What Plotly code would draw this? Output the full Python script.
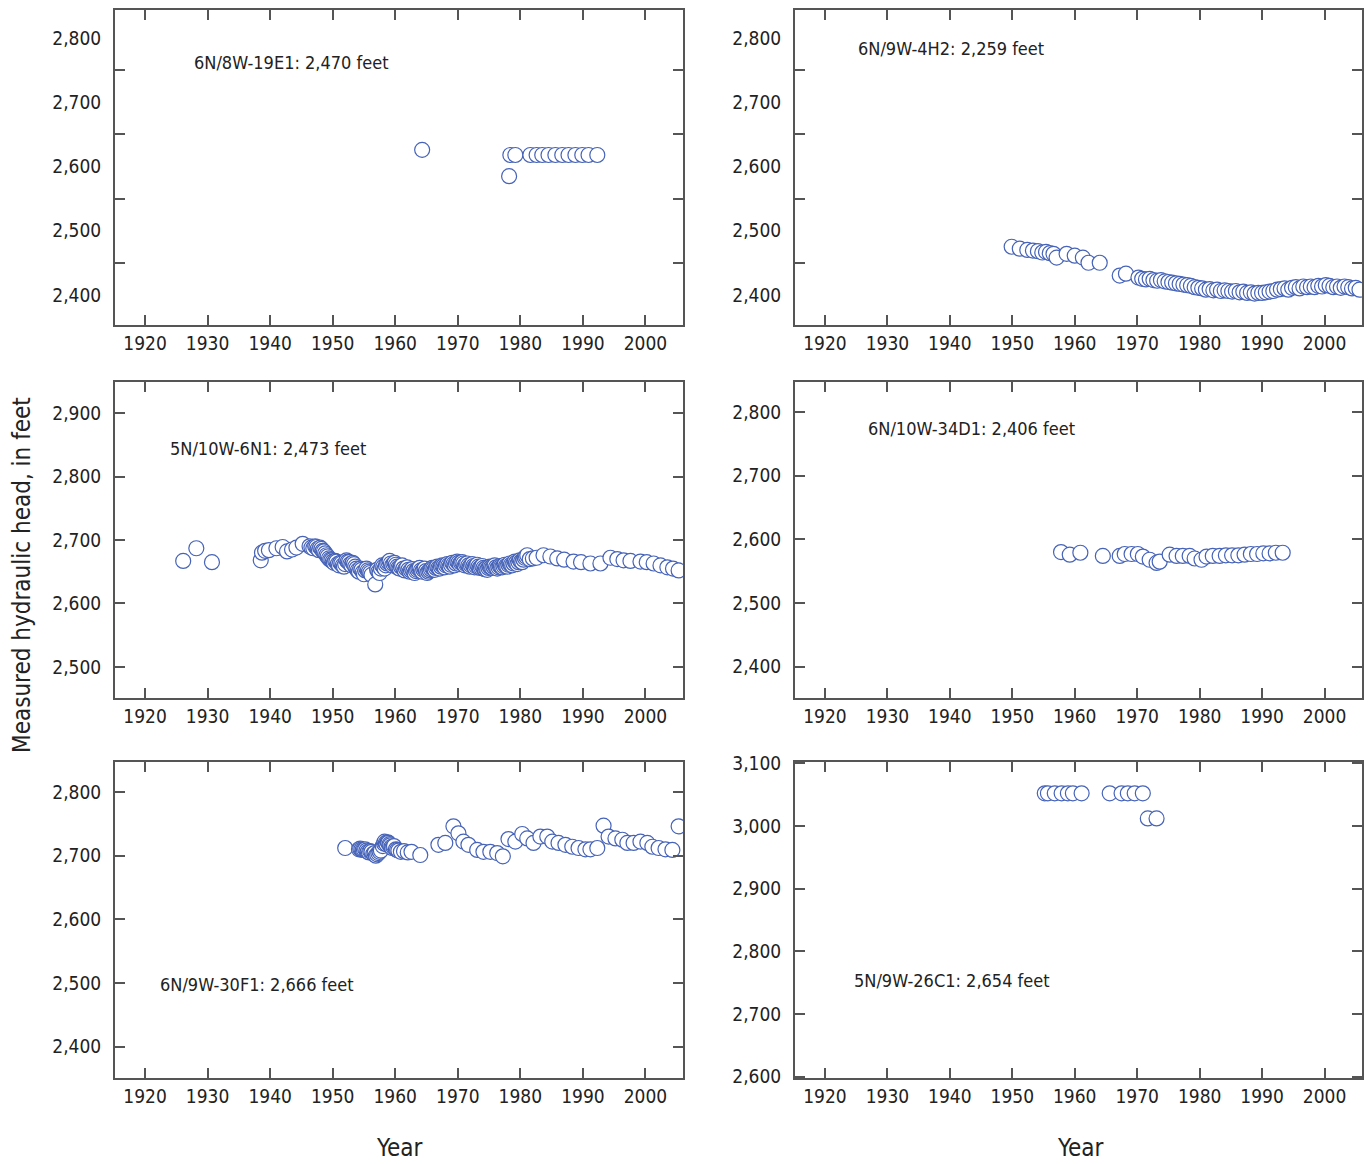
import plotly.graph_objects as go

# ---------------- data ----------------
w1_label = "6N/8W-19E1: 2,470 feet"
w1_year = [1964.3, 1978.2, 1978.4, 1979.2, 1981.6, 1982.6, 1983.5, 1984.5, 1985.6,
           1986.7, 1987.7, 1988.8, 1989.9, 1990.9, 1992.3]
w1_head = [2626, 2585, 2618, 2618, 2618, 2618, 2618, 2618, 2618,
           2618, 2618, 2618, 2618, 2618, 2618]

w2_label = "6N/9W-4H2: 2,259 feet"
w2_year = [1949.9, 1951.2, 1952.4, 1953.3, 1954.1, 1954.8, 1955.4, 1956.0, 1956.6, 1957.1,
           1958.7, 1960.0, 1961.3, 1962.2, 1964.0, 1967.2, 1968.2,
           1970.2, 1970.8, 1971.4, 1972.0, 1972.6, 1973.2, 1973.8, 1974.4, 1975.0, 1975.6,
           1976.2, 1976.8, 1977.4, 1978.0, 1978.6, 1979.2, 1979.8, 1980.4, 1981.0, 1981.6,
           1982.2, 1982.8, 1983.4, 1984.0, 1984.6, 1985.2, 1985.8, 1986.4, 1987.0, 1987.6,
           1988.2, 1988.8, 1989.4, 1990.0, 1990.6, 1991.2, 1991.8, 1992.4, 1993.0, 1993.6,
           1994.2, 1994.8, 1995.4, 1996.0, 1996.6, 1997.2, 1997.8, 1998.4, 1999.0, 1999.6,
           2000.2, 2000.8, 2001.4, 2002.0, 2002.6, 2003.2, 2003.8, 2004.4, 2005.0, 2005.6]
w2_head = [2475, 2472, 2470, 2469, 2468, 2466, 2467, 2465, 2464, 2458,
           2464, 2461, 2458, 2450, 2450, 2430, 2433,
           2427, 2425, 2424, 2425, 2423, 2422, 2423, 2421, 2420, 2419,
           2418, 2417, 2416, 2415, 2414, 2412, 2411, 2410, 2408, 2409,
           2407, 2408, 2406, 2407, 2406, 2405, 2406, 2404, 2405, 2403,
           2404, 2402, 2403, 2403, 2404, 2405, 2406, 2408, 2409, 2410,
           2408, 2411, 2412, 2410, 2413, 2412, 2413, 2412, 2414, 2413,
           2415, 2414, 2412, 2413, 2411, 2413, 2412, 2410, 2411, 2408]

w3_label = "5N/10W-6N1: 2,473 feet"
w3_year = [1926.1, 1928.2, 1930.7, 1938.5, 1938.7, 1939.2, 1939.8, 1941.0, 1942.0, 1942.7,
           1943.5, 1944.2, 1945.2, 1946.3, 1946.6, 1946.9, 1947.2, 1947.4, 1947.6, 1947.8,
           1948.0, 1948.2, 1948.4, 1948.6, 1948.8, 1949.0,
           1949.2, 1949.4, 1949.6, 1949.8, 1950.0, 1950.2, 1950.4, 1950.6, 1950.8, 1951.0,
           1951.2, 1951.4, 1951.6, 1951.8, 1952.0, 1952.2, 1952.4, 1952.6, 1952.8, 1953.0,
           1953.2, 1953.4, 1953.6, 1953.8, 1954.0, 1954.2, 1954.4, 1954.6, 1954.8, 1955.0,
           1955.2, 1955.4, 1955.6, 1955.8, 1956.0, 1956.2, 1956.8, 1957.1,
           1957.3, 1957.5, 1957.7, 1957.9, 1958.1, 1958.3, 1958.5, 1958.7, 1958.9, 1959.1,
           1959.3, 1959.5, 1959.7, 1959.9, 1960.1, 1960.3, 1960.5, 1960.7, 1960.9, 1961.1,
           1961.3, 1961.5, 1961.7, 1961.9, 1962.1, 1962.3, 1962.5, 1962.7, 1962.9, 1963.1,
           1963.3, 1963.5, 1963.7, 1963.9, 1964.1, 1964.3, 1964.5, 1964.7, 1964.9, 1965.1,
           1965.3, 1965.5, 1965.7, 1965.9, 1966.1, 1966.3, 1966.5, 1966.7, 1966.9, 1967.1,
           1967.3, 1967.5, 1967.7, 1967.9, 1968.1, 1968.3, 1968.5, 1968.7, 1968.9, 1969.1,
           1969.3, 1969.5, 1969.7, 1969.9, 1970.1, 1970.3, 1970.5, 1970.7, 1970.9, 1971.1,
           1971.3, 1971.5, 1971.7, 1971.9, 1972.1, 1972.3, 1972.5, 1972.7, 1972.9, 1973.1,
           1973.3, 1973.5, 1973.7, 1973.9, 1974.1, 1974.3, 1974.5, 1974.7, 1974.9, 1975.1,
           1975.3, 1975.5, 1975.7, 1975.9, 1976.1, 1976.3, 1976.5, 1976.7, 1976.9, 1977.1,
           1977.3, 1977.5, 1977.7, 1977.9, 1978.1, 1978.3, 1978.5, 1978.7, 1978.9, 1979.1,
           1979.3, 1979.5, 1979.7, 1979.9, 1980.1, 1980.3, 1980.5, 1980.7, 1980.9, 1981.1,
           1981.5, 1982.0, 1982.6, 1983.7, 1984.8, 1985.9, 1987.0, 1988.5, 1989.7, 1991.2,
           1992.8, 1994.4, 1995.5, 1996.5, 1997.6, 1999.2, 2000.2, 2001.3, 2002.4, 2003.5,
           2004.4, 2005.3]
w3_head = [2667, 2687, 2665, 2668, 2680, 2683, 2684, 2687, 2689, 2682,
           2685, 2688, 2694, 2690, 2688, 2687, 2690, 2689, 2686, 2684,
           2688, 2686, 2683, 2682, 2679, 2676,
           2674, 2671, 2669, 2668, 2666, 2664, 2667, 2666, 2662, 2660,
           2664, 2663, 2660, 2658, 2662, 2668, 2666, 2665, 2662, 2660,
           2664, 2662, 2658, 2655, 2652, 2650, 2655, 2653, 2649, 2646,
           2652, 2655, 2652, 2650, 2648, 2645, 2630, 2653,
           2650, 2648, 2655, 2660, 2658, 2655, 2660, 2663, 2665, 2667,
           2663, 2660, 2662, 2664, 2661, 2658, 2656, 2655, 2658, 2660,
           2655, 2652, 2655, 2657, 2653, 2650, 2652, 2654, 2651, 2648,
           2651, 2653, 2655, 2656, 2652, 2650, 2653, 2655, 2651, 2648,
           2650, 2652, 2654, 2656, 2655, 2653, 2656, 2658, 2656, 2655,
           2658, 2660, 2659, 2657, 2660, 2662, 2660, 2658, 2661, 2664,
           2662, 2660, 2663, 2666, 2664, 2662, 2664, 2665, 2663, 2660,
           2662, 2663, 2660, 2658, 2660, 2662, 2659, 2657, 2659, 2661,
           2658, 2656, 2657, 2659, 2656, 2654, 2655, 2653, 2656, 2658,
           2657, 2656, 2658, 2660, 2657, 2655, 2657, 2659, 2658, 2657,
           2659, 2661, 2659, 2658, 2661, 2663, 2661, 2660, 2663, 2666,
           2664, 2662, 2665, 2668, 2666, 2665, 2669, 2672, 2674, 2676,
           2670, 2671, 2672, 2676, 2674, 2671, 2669, 2666, 2665, 2663,
           2663, 2672, 2670, 2668, 2667, 2666, 2665, 2663, 2660, 2657,
           2655, 2652]

w4_label = "6N/10W-34D1: 2,406 feet"
w4_year = [1957.8, 1959.2, 1960.9, 1964.5, 1967.2, 1968.0, 1969.1, 1970.1, 1970.9, 1972.0,
           1973.1, 1973.6, 1975.2, 1976.3, 1977.3, 1978.4, 1979.2, 1980.3, 1981.1, 1982.1,
           1983.2, 1984.2, 1985.2, 1986.2, 1987.2, 1988.2, 1989.2, 1990.2, 1991.2, 1992.2,
           1993.3]
w4_head = [2580, 2576, 2579, 2574, 2574, 2577, 2577, 2577, 2573, 2568,
           2563, 2565, 2576, 2574, 2574, 2574, 2570, 2568, 2573, 2574,
           2574, 2575, 2575, 2575, 2576, 2577, 2577, 2578, 2578, 2579,
           2579]

w5_label = "6N/9W-30F1: 2,666 feet"
w5_year = [1952.0, 1954.2, 1954.4, 1954.6, 1954.8, 1955.0, 1955.2, 1955.4, 1955.6, 1955.8,
           1956.0, 1956.2, 1956.5, 1956.7, 1956.9, 1957.1, 1957.3,
           1957.5, 1957.7, 1958.0, 1958.2, 1958.3, 1958.5, 1958.6, 1958.8, 1958.9, 1959.1,
           1959.2, 1959.4, 1959.5, 1959.7, 1959.8, 1960.1, 1960.3, 1960.5,
           1960.9, 1961.4, 1962.0, 1962.6, 1964.0, 1966.9, 1968.0, 1969.3, 1970.1, 1970.9,
           1971.7, 1973.1, 1974.1, 1975.2, 1976.3, 1977.2, 1978.1, 1979.2, 1980.3, 1981.1,
           1982.1, 1983.2, 1984.3, 1985.1, 1986.1, 1987.2, 1988.3, 1989.3, 1990.4, 1991.2,
           1992.3, 1993.3, 1994.1, 1995.2, 1996.3, 1997.1, 1998.1, 1999.2, 2000.3, 2001.1,
           2002.1, 2003.2, 2004.3, 2005.3]
w5_head = [2712, 2710, 2711, 2710, 2709, 2709, 2710, 2708, 2706, 2705,
           2707, 2706, 2703, 2704, 2700, 2702, 2704,
           2706, 2708, 2715, 2719, 2722, 2720, 2718, 2721, 2720, 2718,
           2716, 2714, 2712, 2713, 2715, 2710, 2709, 2708,
           2706, 2707, 2705, 2706, 2701, 2717, 2720, 2746, 2735, 2722,
           2717, 2709, 2706, 2706, 2704, 2699, 2726, 2722, 2734, 2727,
           2720, 2730, 2730, 2722, 2720, 2717, 2714, 2712, 2710, 2710,
           2712, 2747, 2730, 2727, 2725, 2720, 2720, 2722, 2720, 2714,
           2712, 2710, 2709, 2746]

w6_label = "5N/9W-26C1: 2,654 feet"
w6_year = [1955.2, 1955.7, 1956.8, 1957.9, 1958.9, 1959.7, 1961.1,
           1965.6, 1967.5, 1968.5, 1969.6, 1970.9, 1971.7, 1973.1]
w6_head = [3052, 3052, 3052, 3052, 3052, 3052, 3052,
           3052, 3052, 3052, 3052, 3052, 3012, 3012]

year_ticks = [1920, 1930, 1940, 1950, 1960, 1970, 1980, 1990, 2000]
head_ticks_a = [2400, 2500, 2600, 2700, 2800]
head_ticks_b = [2500, 2600, 2700, 2800, 2900]
head_ticks_c = [2600, 2700, 2800, 2900, 3000, 3100]
minor_ticks_a = [2450, 2550, 2650, 2750]

# ---------------- layout helpers ----------------
W, H = 1370, 1164
FONT = "DejaVu Sans Condensed, Liberation Sans Narrow, sans-serif"
MARK = "#4663b8"
LINE = "#555555"
TXT = "#222222"


def xd(a, b):
    return [a / W, b / W]


def yd(top, bot):
    return [1 - bot / H, 1 - top / H]


cols = [xd(115, 683), xd(795, 1362)]
rows = [yd(10, 325), yd(382, 698), yd(762, 1078)]

panels = [
    (w1_year, w1_head, w1_label, 0, 0, [2353, 2844], head_ticks_a, True, (192, 62)),
    (w2_year, w2_head, w2_label, 1, 0, [2353, 2844], head_ticks_a, True, (856, 49)),
    (w3_year, w3_head, w3_label, 0, 1, [2451, 2949], head_ticks_b, False, (168, 449)),
    (w4_year, w4_head, w4_label, 1, 1, [2351, 2847], head_ticks_a, False, (866, 428)),
    (w5_year, w5_head, w5_label, 0, 2, [2351, 2847], head_ticks_a, False, (158, 984)),
    (w6_year, w6_head, w6_label, 1, 2, [2598, 3102], head_ticks_c, False, (852, 980)),
]

fig = go.Figure()
annotations = []
for i, (xs, ys, lab, c, r, yr, yt, offset, (ax, ay)) in enumerate(panels, start=1):
    sfx = "" if i == 1 else str(i)
    fig.add_trace(go.Scatter(
        x=xs, y=ys, mode="markers", xaxis="x" + sfx, yaxis="y" + sfx,
        marker=dict(symbol="circle", size=15, color="white",
                    line=dict(color=MARK, width=1.2)),
        showlegend=False, hoverinfo="x+y"))
    xa = dict(domain=cols[c], range=[1915.2, 2006.0], anchor="y" + sfx,
              tickvals=year_ticks, ticks="inside", ticklen=10, tickwidth=1.5,
              tickcolor=LINE, showline=True, linecolor=LINE, linewidth=2,
              mirror="ticks", showgrid=False, zeroline=False,
              tickfont=dict(family=FONT, size=19, color=TXT),
              automargin=False)
    ya = dict(domain=rows[r], range=yr, anchor="x" + sfx,
              tickvals=yt, tickformat=",d",
              showline=True, linecolor=LINE, linewidth=2,
              mirror="ticks", showgrid=False, zeroline=False,
              tickfont=dict(family=FONT, size=19, color=TXT),
              ticklabelstandoff=8, automargin=False)
    if offset:
        ya.update(ticks="", minor=dict(tickvals=minor_ticks_a, ticks="inside",
                                       ticklen=10, tickwidth=1.5, tickcolor=LINE,
                                       showgrid=False))
    else:
        ya.update(ticks="inside", ticklen=10, tickwidth=1.5, tickcolor=LINE)
    fig.update_layout(**{"xaxis" + sfx: xa, "yaxis" + sfx: ya})
    annotations.append(dict(text=lab, x=ax / W, y=1 - ay / H, xref="paper", yref="paper",
                            xanchor="left", yanchor="middle", showarrow=False,
                            font=dict(family=FONT, size=18, color=TXT)))

for xc in (400, 1080):
    annotations.append(dict(text="Year", x=xc / W, y=1 - 1148 / H, xref="paper", yref="paper",
                            xanchor="center", yanchor="middle", showarrow=False,
                            font=dict(family=FONT, size=24, color=TXT)))
annotations.append(dict(text="Measured hydraulic head, in feet", x=22 / W, y=1 - 575 / H,
                        xref="paper", yref="paper", xanchor="center", yanchor="middle",
                        textangle=-90, showarrow=False,
                        font=dict(family=FONT, size=24, color=TXT)))

fig.update_layout(width=W, height=H, margin=dict(l=0, r=0, t=0, b=0),
                  paper_bgcolor="white", plot_bgcolor="white",
                  annotations=annotations, showlegend=False)

fig.write_html("out.html", config={"displayModeBar": False},
               post_script="document.body.style.margin='0';document.body.style.overflow='hidden';")
